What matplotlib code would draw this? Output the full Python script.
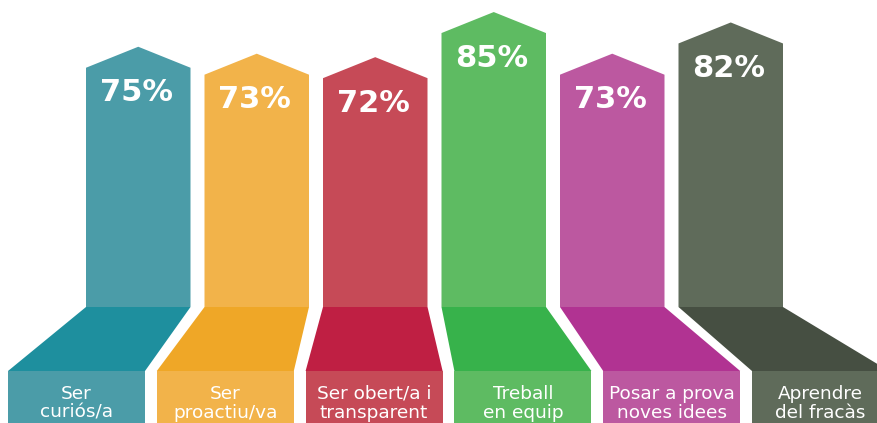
import matplotlib
matplotlib.use("Agg")
import matplotlib.pyplot as plt
from matplotlib.patches import Polygon, Rectangle

# data
labels = ["Ser\ncuriós/a", "Ser\nproactiu/va", "Ser obert/a i\ntransparent",
          "Treball\nen equip", "Posar a prova\nnoves idees", "Aprendre\ndel fracàs"]
values = [75, 73, 72, 85, 73, 82]
light_colors = ["#4B9CA8", "#F2B34A", "#C64A57", "#5EBB62", "#BC58A0", "#5F6B5A"]
dark_colors = ["#1E8F9E", "#EFA727", "#BF1F43", "#37B24B", "#B13392", "#464F42"]

# layout (pixel units, y grows downward)
W, H = 878, 423
col_x0, col_step, col_w = 86, 118.5, 104.5
col_base = 307
px_per_pct = 3.47
arrow_h = 21
floor_bottom = 371
box_x0, box_step, box_w = 8, 148.8, 137

fig = plt.figure(figsize=(W / 100, H / 100), dpi=100)
ax = fig.add_axes([0, 0, 1, 1])
ax.set_xlim(0, W)
ax.set_ylim(H, 0)
ax.axis("off")

for i, (lab, v) in enumerate(zip(labels, values)):
    cl = col_x0 + i * col_step
    cr = cl + col_w
    cx = (cl + cr) / 2
    peak = col_base - v * px_per_pct
    shoulder = peak + arrow_h
    # column with arrow head
    ax.add_patch(Polygon([(cl, col_base), (cl, shoulder), (cx, peak),
                          (cr, shoulder), (cr, col_base)],
                         closed=True, fc=light_colors[i], ec="none"))
    # floor trapezoid
    bl = box_x0 + i * box_step
    br = bl + box_w
    ax.add_patch(Polygon([(cl, col_base), (cr, col_base), (br, floor_bottom),
                          (bl, floor_bottom)],
                         closed=True, fc=dark_colors[i], ec="none"))
    # label box
    ax.add_patch(Rectangle((bl, floor_bottom), box_w, H + 10 - floor_bottom,
                           fc=light_colors[i], ec="none"))
    # value text
    ax.text(cx - 2, peak + 46, f"{v}%", color="white", fontsize=22,
            fontweight="bold", ha="center", va="center",
            family="DejaVu Sans")
    # label lines
    for j, line in enumerate(lab.split("\n")):
        ax.text((bl + br) / 2, 399 + j * 18.7, line, color="white",
                fontsize=13.3, ha="center", va="baseline",
                family="DejaVu Sans")

fig.savefig("out.png", dpi=100)
